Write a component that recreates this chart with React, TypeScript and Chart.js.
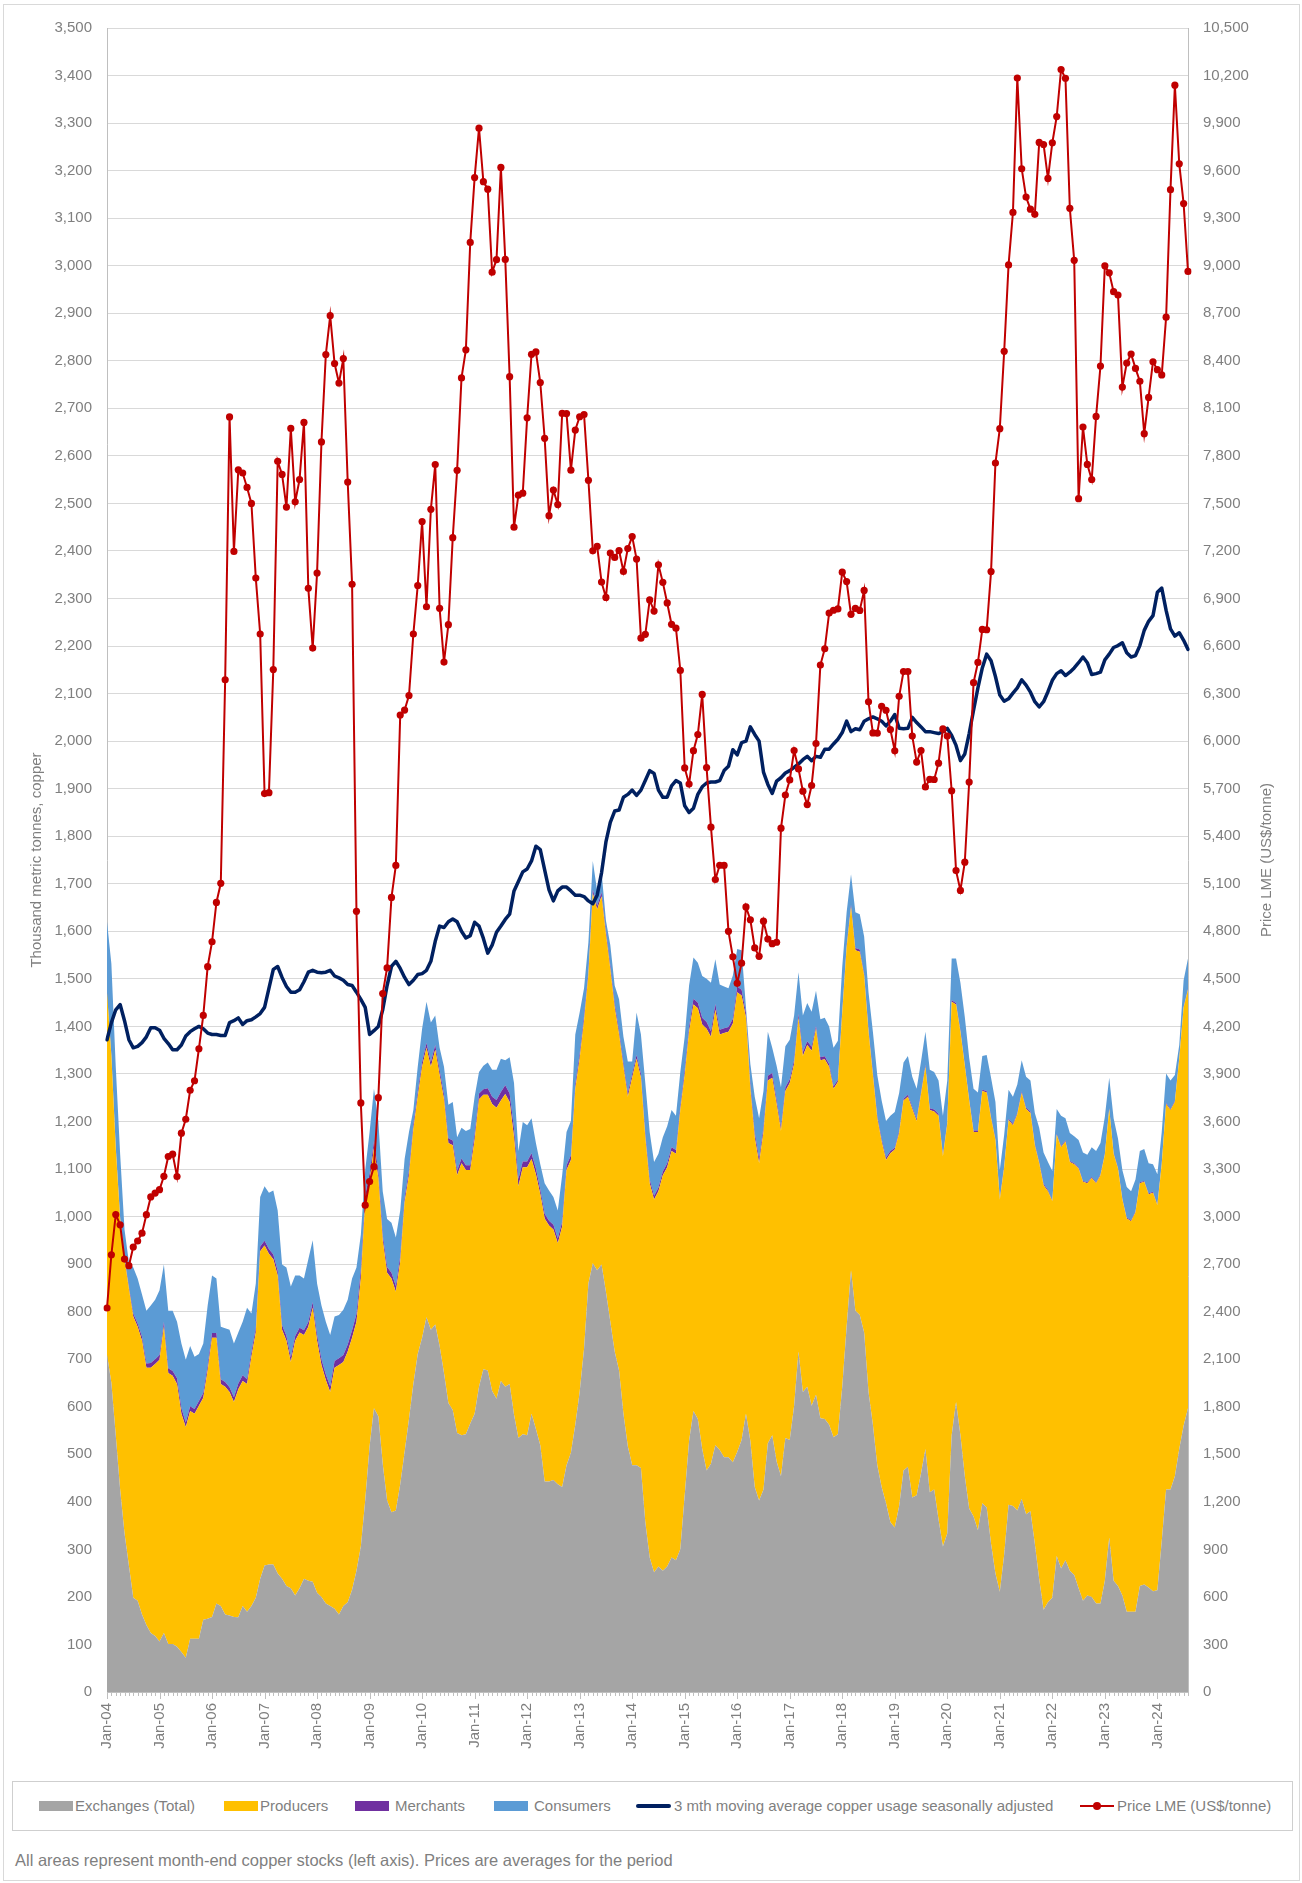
import React, { useEffect, useRef } from 'react';
import { Chart, registerables } from 'chart.js';

Chart.register(...registerables);

// ---------- categories ----------
const monthNames = ['Jan', 'Feb', 'Mar', 'Apr', 'May', 'Jun', 'Jul', 'Aug', 'Sep', 'Oct', 'Nov', 'Dec'];
const yearLabels = ['04', '05', '06', '07', '08', '09', '10', '11', '12', '13', '14', '15', '16', '17', '18', '19', '20', '21', '22', '23', '24'];
const categories: string[] = yearLabels.flatMap((y) => monthNames.map((m) => `${m}-${y}`)).slice(0, 248);

// ---------- series (thousand tonnes, month-end stocks) ----------
// Exchanges (Total) stocks
const exchanges = [
  710, 650, 540, 426, 334, 266, 198, 192, 163, 141, 124, 118,
  106, 124, 101, 101, 95, 84, 72, 112, 112, 112, 152, 154,
  158, 186, 181, 163, 161, 158, 157, 181, 169, 181, 198, 238,
  266, 268, 268, 249, 238, 223, 218, 203, 218, 238, 234, 232,
  209, 200, 186, 181, 175, 163, 181, 189, 215, 255, 306, 403,
  517, 597, 580, 480, 403, 378, 382, 437, 505, 574, 648, 711,
  745, 788, 762, 773, 728, 671, 608, 593, 545, 540, 542, 565,
  585, 642, 679, 676, 633, 617, 654, 642, 648, 583, 534, 542,
  540, 585, 553, 519, 443, 443, 446, 437, 431, 477, 503, 562,
  631, 722, 859, 902, 887, 899, 842, 779, 716, 676, 585, 517,
  477, 477, 471, 357, 283, 252, 264, 255, 264, 283, 277, 300,
  414, 528, 591, 574, 511, 466, 480, 519, 509, 494, 494, 483,
  505, 530, 585, 528, 431, 403, 426, 523, 540, 485, 454, 534,
  530, 602, 716, 631, 642, 602, 625, 576, 574, 562, 536, 542,
  642, 768, 887, 802, 793, 756, 631, 562, 477, 431, 397, 357,
  346, 391, 466, 474, 409, 414, 460, 511, 420, 426, 363, 306,
  334, 540, 610, 540, 454, 386, 369, 340, 397, 388, 312, 249,
  211, 289, 394, 391, 382, 406, 374, 380, 312, 237, 173, 189,
  198, 286, 260, 277, 255, 246, 218, 192, 203, 200, 186, 186,
  234, 325, 234, 223, 203, 169, 169, 169, 223, 226, 220, 212,
  214, 317, 426, 426, 454, 511, 560, 597,
];

// Exchanges + Producers (level of the top of the yellow area)
const exchangesPlusProducers = [
  1470, 1338, 1144, 996, 910, 848, 790, 768, 739, 682, 682, 690,
  699, 768, 671, 665, 648, 585, 557, 591, 585, 602, 619, 676,
  745, 745, 648, 642, 631, 610, 637, 654, 648, 705, 756, 927,
  939, 922, 910, 876, 762, 739, 694, 739, 756, 751, 768, 808,
  739, 688, 656, 631, 682, 688, 694, 716, 745, 779, 870, 1030,
  1076, 1144, 1081, 950, 882, 870, 842, 905, 1030, 1087, 1184, 1252,
  1315, 1355, 1315, 1351, 1298, 1247, 1155, 1150, 1087, 1112, 1098, 1098,
  1161, 1247, 1256, 1256, 1237, 1229, 1244, 1258, 1241, 1167, 1064, 1104,
  1104, 1121, 1089, 1047, 996, 981, 973, 944, 979, 1098, 1119, 1269,
  1332, 1412, 1509, 1680, 1646, 1674, 1594, 1520, 1440, 1383, 1315, 1252,
  1292, 1332, 1292, 1167, 1070, 1036, 1053, 1087, 1104, 1138, 1132, 1224,
  1298, 1389, 1446, 1438, 1404, 1395, 1378, 1435, 1383, 1386, 1389, 1406,
  1472, 1465, 1418, 1269, 1167, 1112, 1178, 1286, 1292, 1237, 1180, 1264,
  1281, 1321, 1418, 1338, 1361, 1349, 1395, 1329, 1331, 1315, 1269, 1283,
  1429, 1566, 1651, 1560, 1557, 1507, 1389, 1298, 1207, 1158, 1119, 1133,
  1141, 1176, 1244, 1252, 1226, 1201, 1258, 1315, 1224, 1221, 1212, 1127,
  1195, 1452, 1446, 1389, 1317, 1244, 1178, 1178, 1264, 1261, 1207, 1161,
  1036, 1104, 1203, 1192, 1215, 1260, 1226, 1218, 1150, 1112, 1066, 1053,
  1032, 1172, 1146, 1158, 1115, 1110, 1101, 1073, 1070, 1081, 1070, 1087,
  1130, 1226, 1132, 1101, 1036, 996, 990, 1009, 1070, 1073, 1047, 1050,
  1024, 1110, 1237, 1224, 1241, 1332, 1440, 1477,
];

// Merchants stocks (thin purple band)
const merchants = [
  2, 2, 3, 3, 4, 5, 6, 7, 8, 9, 10, 10,
  10, 10, 10, 10, 12, 12, 10, 10, 10, 10, 10, 10,
  10, 10, 10, 10, 10, 10, 12, 12, 10, 10, 10, 10,
  10, 10, 10, 10, 10, 10, 10, 10, 10, 10, 10, 12,
  12, 12, 12, 12, 14, 14, 15, 15, 16, 16, 18, 15,
  15, 15, 15, 12, 12, 12, 12, 12, 10, 10, 10, 10,
  10, 10, 10, 10, 10, 10, 10, 10, 10, 10, 10, 10,
  12, 12, 12, 14, 15, 16, 18, 18, 18, 18, 15, 12,
  12, 12, 12, 10, 10, 10, 10, 10, 10, 10, 10, 10,
  10, 10, 8, 8, 8, 8, 8, 8, 8, 8, 8, 8,
  8, 8, 8, 8, 8, 8, 8, 8, 8, 8, 8, 8,
  10, 10, 12, 12, 14, 14, 12, 12, 10, 10, 10, 10,
  12, 12, 10, 10, 10, 10, 10, 10, 10, 8, 8, 8,
  8, 8, 8, 8, 8, 8, 6, 6, 6, 6, 5, 5,
  5, 5, 5, 5, 5, 5, 5, 5, 5, 5, 5, 5,
  4, 4, 4, 4, 4, 4, 4, 4, 4, 4, 4, 4,
  3, 3, 3, 3, 3, 3, 3, 3, 3, 3, 3, 3,
  3, 3, 3, 3, 3, 3, 3, 3, 3, 3, 3, 3,
  2, 2, 2, 2, 2, 2, 2, 2, 2, 2, 2, 2,
  2, 2, 2, 2, 2, 2, 2, 2, 2, 2, 2, 2,
  2, 2, 2, 2, 2, 2, 2, 2,
];

// Total stocks (top of the blue Consumers area)
const totalStocks = [
  1620, 1532, 1315, 1132, 973, 904, 893, 870, 836, 802, 813, 825,
  845, 899, 802, 802, 779, 733, 699, 728, 705, 711, 733, 813,
  876, 870, 768, 765, 762, 733, 756, 779, 808, 796, 859, 1041,
  1064, 1050, 1055, 1013, 899, 893, 853, 876, 876, 870, 910, 950,
  859, 813, 779, 751, 790, 793, 804, 825, 870, 893, 962, 1098,
  1178, 1269, 1201, 1053, 995, 987, 956, 1013, 1121, 1178, 1224, 1315,
  1395, 1452, 1408, 1423, 1355, 1315, 1235, 1241, 1167, 1187, 1180, 1184,
  1252, 1304, 1317, 1324, 1309, 1309, 1332, 1329, 1335, 1281, 1138, 1199,
  1192, 1207, 1155, 1110, 1070, 1055, 1041, 1013, 1087, 1178, 1201, 1383,
  1429, 1480, 1577, 1748, 1685, 1725, 1623, 1571, 1486, 1457, 1378, 1326,
  1326, 1429, 1383, 1281, 1178, 1115, 1132, 1167, 1190, 1224, 1212, 1304,
  1378, 1486, 1545, 1534, 1506, 1500, 1492, 1541, 1488, 1484, 1480, 1507,
  1563, 1560, 1440, 1321, 1252, 1207, 1264, 1389, 1355, 1317, 1272, 1358,
  1372, 1423, 1514, 1423, 1449, 1431, 1475, 1415, 1418, 1400, 1355, 1370,
  1526, 1640, 1720, 1640, 1636, 1589, 1472, 1389, 1298, 1244, 1201, 1212,
  1220, 1260, 1324, 1338, 1294, 1269, 1326, 1389, 1309, 1304, 1286, 1212,
  1286, 1543, 1543, 1492, 1420, 1334, 1269, 1261, 1338, 1340, 1292, 1241,
  1098, 1172, 1267, 1252, 1278, 1329, 1294, 1286, 1218, 1187, 1135, 1115,
  1096, 1226, 1212, 1207, 1176, 1169, 1161, 1135, 1130, 1146, 1138, 1155,
  1210, 1292, 1207, 1164, 1098, 1062, 1053, 1078, 1138, 1142, 1112, 1110,
  1089, 1178, 1301, 1286, 1298, 1361, 1497, 1543,
];

// 3 mth moving average copper usage, seasonally adjusted (left axis)
const usageMA = [
  1372, 1408, 1435, 1446, 1412, 1372, 1355, 1358, 1366, 1378, 1397, 1397,
  1392, 1375, 1364, 1351, 1351, 1361, 1380, 1389, 1395, 1400, 1395, 1386,
  1383, 1383, 1381, 1381, 1408, 1412, 1418, 1404, 1412, 1414, 1420, 1427,
  1440, 1480, 1520, 1526, 1503, 1484, 1472, 1472, 1477, 1494, 1514, 1518,
  1514, 1513, 1514, 1518, 1506, 1502, 1497, 1488, 1486, 1472, 1457, 1440,
  1383, 1391, 1400, 1435, 1486, 1526, 1537, 1522, 1503, 1488, 1497, 1509,
  1511, 1518, 1537, 1579, 1611, 1608, 1620, 1626, 1620, 1600, 1586, 1591,
  1619, 1611, 1585, 1554, 1571, 1598, 1611, 1625, 1636, 1685, 1705, 1725,
  1731, 1748, 1779, 1772, 1729, 1687, 1664, 1685, 1693, 1693, 1685, 1676,
  1676, 1673, 1664, 1658, 1676, 1723, 1788, 1829, 1853, 1855, 1882, 1888,
  1897, 1886, 1897, 1917, 1938, 1932, 1897, 1882, 1882, 1906, 1917, 1912,
  1864, 1850, 1859, 1888, 1904, 1912, 1914, 1914, 1917, 1938, 1947, 1982,
  1971, 1997, 2000, 2030, 2014, 2000, 1935, 1909, 1890, 1916, 1923, 1933,
  1938, 1945, 1952, 1961, 1968, 1959, 1968, 1966, 1983, 1983, 1994, 2004,
  2018, 2042, 2020, 2026, 2024, 2042, 2047, 2051, 2047, 2042, 2032, 2042,
  2056, 2027, 2026, 2027, 2050, 2039, 2030, 2020, 2020, 2018, 2016, 2020,
  2027, 2012, 1991, 1959, 1973, 2016, 2065, 2112, 2154, 2183, 2169, 2136,
  2097, 2084, 2089, 2101, 2112, 2129, 2118, 2103, 2083, 2072, 2083, 2104,
  2128, 2142, 2148, 2138, 2145, 2154, 2165, 2177, 2165, 2140, 2142, 2145,
  2171, 2183, 2197, 2201, 2207, 2186, 2177, 2180, 2201, 2233, 2252, 2264,
  2313, 2322, 2275, 2236, 2221, 2228, 2212, 2193,
];

// Price LME (US$/tonne), right axis
const priceLME = [
  2423, 2759, 3013, 2948, 2732, 2690, 2808, 2846, 2895, 3012, 3124, 3148,
  3170, 3254, 3379, 3394, 3253, 3526, 3614, 3797, 3857, 4059, 4269, 4577,
  4734, 4982, 5103, 6387, 8046, 7197, 7712, 7692, 7601, 7500, 7029, 6676,
  5669, 5675, 6452, 7766, 7683, 7477, 7973, 7510, 7651, 8011, 6964, 6587,
  7061, 7888, 8439, 8685, 8383, 8260, 8414, 7635, 6990, 4926, 3717, 3072,
  3221, 3315, 3750, 4407, 4569, 5014, 5216, 6165, 6196, 6288, 6676, 6982,
  7386, 6848, 7463, 7745, 6838, 6499, 6735, 7284, 7709, 8292, 8469, 9147,
  9556, 9868, 9530, 9483, 8959, 9038, 9620, 9040, 8300, 7350, 7552, 7565,
  8040, 8441, 8456, 8263, 7911, 7423, 7584, 7493, 8068, 8067, 7710, 7963,
  8047, 8061, 7646, 7201, 7229, 7004, 6907, 7187, 7159, 7203, 7071, 7215,
  7291, 7149, 6650, 6674, 6891, 6821, 7113, 7002, 6872, 6737, 6713, 6446,
  5831, 5729, 5940, 6042, 6295, 5833, 5457, 5127, 5217, 5216, 4800, 4639,
  4472, 4599, 4954, 4873, 4695, 4642, 4864, 4751, 4722, 4731, 5451, 5660,
  5755, 5941, 5825, 5684, 5600, 5720, 5985, 6480, 6583, 6808, 6826, 6834,
  7066, 7007, 6800, 6838, 6825, 6951, 6248, 6052, 6050, 6220, 6195, 6073,
  5939, 6283, 6439, 6439, 6032, 5868, 5941, 5711, 5759, 5758, 5861, 6077,
  6032, 5687, 5183, 5058, 5236, 5742, 6369, 6497, 6705, 6703, 7070, 7755,
  7972, 8460, 9005, 9336, 10184, 9612, 9433, 9357, 9324, 9778, 9765, 9551,
  9776, 9941, 10238, 10183, 9362, 9034, 7530, 7982, 7746, 7651, 8049, 8367,
  8999, 8955, 8836, 8815, 8234, 8386, 8443, 8352, 8271, 7940, 8169, 8394,
  8344, 8311, 8675, 9480, 10139, 9643, 9392, 8964,
];

const seriesNames = [
  'Exchanges (Total)',
  'Producers',
  'Merchants',
  'Consumers',
  '3 mth moving average copper usage seasonally adjusted',
  'Price LME (US$/tonne)',
];
const leftTitle = 'Thousand metric tonnes, copper';
const rightTitle = 'Price LME (US$/tonne)';
const footnote = 'All areas represent month-end copper stocks (left axis). Prices are averages for the period';

// ---------- styling ----------
const FONT = '"Liberation Sans", Arial, Helvetica, sans-serif';
const TEXT = '#7F7F7F';
const COLORS = ['#A5A5A5', '#FFC000', '#7030A0', '#5B9BD5', '#002060', '#C00000'];

const axisDecor = {
  id: 'axisDecor',
  afterDraw(chart: any) {
    const { ctx, chartArea } = chart;
    const x = chart.scales.x;
    const y1 = chart.scales.y1;
    ctx.save();
    ctx.strokeStyle = '#BFBFBF';
    ctx.lineWidth = 1;
    for (let i = 0; i < categories.length; i++) {
      const px = Math.round(x.getPixelForValue(i)) + 0.5;
      const len = i % 12 === 0 ? 7 : 4;
      ctx.beginPath();
      ctx.moveTo(px, chartArea.bottom);
      ctx.lineTo(px, chartArea.bottom + len);
      ctx.stroke();
    }
    ctx.fillStyle = TEXT;
    ctx.font = `15px ${FONT}`;
    ctx.translate(y1.right - 9, (chartArea.top + chartArea.bottom) / 2);
    ctx.rotate(-Math.PI / 2);
    ctx.textAlign = 'center';
    ctx.textBaseline = 'middle';
    ctx.fillText(rightTitle, 0, 0);
    ctx.restore();
  },
};

const legendLayout = [
  { kind: 'box', swatchX: 39, textX: 75 },
  { kind: 'box', swatchX: 224, textX: 260 },
  { kind: 'box', swatchX: 355, textX: 395 },
  { kind: 'box', swatchX: 494, textX: 534 },
  { kind: 'line', swatchX: 636, textX: 674 },
  { kind: 'marker', swatchX: 1080, textX: 1117 },
];

export default function App() {
  const ref = useRef<HTMLCanvasElement>(null);

  useEffect(() => {
    const canvas = ref.current;
    if (!canvas) return;
    const producers = exchangesPlusProducers.map((v, i) => v - exchanges[i]);
    const consumers = totalStocks.map((v, i) => Math.max(0, v - exchangesPlusProducers[i] - merchants[i]));
    const font = { family: FONT, size: 15 };
    const areaBase = {
      yAxisID: 'y',
      stack: 'stocks',
      borderWidth: 0,
      pointRadius: 0,
      pointHoverRadius: 0,
      order: 0,
      tension: 0,
    };
    const chart = new Chart(canvas, {
      type: 'line',
      data: {
        labels: categories,
        datasets: [
          { ...areaBase, label: seriesNames[0], data: exchanges, backgroundColor: COLORS[0], borderColor: COLORS[0], fill: 'origin' },
          { ...areaBase, label: seriesNames[1], data: producers, backgroundColor: COLORS[1], borderColor: COLORS[1], fill: '-1' },
          { ...areaBase, label: seriesNames[2], data: merchants, backgroundColor: COLORS[2], borderColor: COLORS[2], fill: '-1' },
          { ...areaBase, label: seriesNames[3], data: consumers, backgroundColor: COLORS[3], borderColor: COLORS[3], fill: '-1' },
          {
            label: seriesNames[4],
            data: usageMA,
            yAxisID: 'y',
            stack: 'usage',
            borderColor: COLORS[4],
            backgroundColor: COLORS[4],
            borderWidth: 3.5,
            pointRadius: 0,
            pointHoverRadius: 0,
            fill: false,
            tension: 0,
            borderJoinStyle: 'round',
            borderCapStyle: 'round',
            order: -1,
          },
          {
            label: seriesNames[5],
            data: priceLME,
            yAxisID: 'y1',
            borderColor: COLORS[5],
            backgroundColor: COLORS[5],
            borderWidth: 2,
            pointRadius: 3.6,
            pointHoverRadius: 3.6,
            pointBorderWidth: 0,
            pointBackgroundColor: COLORS[5],
            fill: false,
            tension: 0,
            order: -2,
          },
        ],
      } as any,
      options: {
        responsive: false,
        animation: false,
        events: [],
        layout: { padding: { left: 20, right: 26, top: 28, bottom: 0 } },
        plugins: { legend: { display: false }, tooltip: { enabled: false } },
        scales: {
          x: {
            type: 'category',
            offset: false,
            grid: { display: false, drawTicks: false },
            border: { display: true, color: '#BFBFBF', width: 1 },
            ticks: {
              autoSkip: false,
              minRotation: 90,
              maxRotation: 90,
              padding: 11,
              color: TEXT,
              font,
              callback: (_v: any, i: number) => (i % 12 === 0 ? categories[i] : ''),
            },
            afterFit: (s: any) => {
              s.height = 78;
            },
          },
          y: {
            type: 'linear',
            position: 'left',
            stacked: true,
            min: 0,
            max: 3500,
            grid: { color: '#D9D9D9', drawTicks: false, lineWidth: 1 },
            border: { display: true, color: '#BFBFBF', width: 1 },
            ticks: {
              stepSize: 100,
              autoSkip: false,
              padding: 15,
              color: TEXT,
              font,
              callback: (v: any) => Number(v).toLocaleString('en-US'),
            },
            title: {
              display: true,
              text: leftTitle,
              color: TEXT,
              font,
              padding: { top: 8, bottom: 0 },
            },
            afterFit: (s: any) => {
              s.width = 87;
            },
          },
          y1: {
            type: 'linear',
            position: 'right',
            min: 0,
            max: 10500,
            grid: { display: false, drawTicks: false },
            border: { display: true, color: '#BFBFBF', width: 1 },
            ticks: {
              stepSize: 300,
              autoSkip: false,
              padding: 15,
              color: TEXT,
              font,
              callback: (v: any) => Number(v).toLocaleString('en-US'),
            },
            afterFit: (s: any) => {
              s.width = 88;
            },
          },
        },
      } as any,
      plugins: [axisDecor],
    });
    return () => chart.destroy();
  }, []);

  return (
    <div style={{ position: 'absolute', left: 0, top: 0, width: 1302, height: 1883, background: '#FFFFFF', fontFamily: FONT }}>
      <div
        style={{
          position: 'absolute',
          left: 3,
          top: 4,
          width: 1297,
          height: 1877,
          border: '1px solid #D9D9D9',
          boxSizing: 'border-box',
        }}
      />
      <canvas
        ref={ref}
        width={1302}
        height={1770}
        style={{ position: 'absolute', left: 0, top: 0, width: 1302, height: 1770 }}
      />
      <div
        style={{
          position: 'absolute',
          left: 12,
          top: 1781,
          width: 1281,
          height: 50,
          border: '1px solid #CFCFCF',
          boxSizing: 'border-box',
        }}
      />
      {legendLayout.map((item, i) => (
        <React.Fragment key={i}>
          {item.kind === 'box' && (
            <div
              style={{
                position: 'absolute',
                left: item.swatchX,
                top: 1801,
                width: 34,
                height: 10,
                background: COLORS[i],
              }}
            />
          )}
          {item.kind === 'line' && (
            <div
              style={{
                position: 'absolute',
                left: item.swatchX,
                top: 1804,
                width: 35,
                height: 4,
                borderRadius: 2,
                background: COLORS[i],
              }}
            />
          )}
          {item.kind === 'marker' && (
            <>
              <div
                style={{
                  position: 'absolute',
                  left: item.swatchX,
                  top: 1805,
                  width: 34,
                  height: 2,
                  background: COLORS[i],
                }}
              />
              <div
                style={{
                  position: 'absolute',
                  left: item.swatchX + 13,
                  top: 1802,
                  width: 8,
                  height: 8,
                  borderRadius: 4,
                  background: COLORS[i],
                }}
              />
            </>
          )}
          <div
            style={{
              position: 'absolute',
              left: item.textX,
              top: 1797,
              fontSize: 15,
              lineHeight: '18px',
              color: TEXT,
              whiteSpace: 'nowrap',
            }}
          >
            {seriesNames[i]}
          </div>
        </React.Fragment>
      ))}
      <div
        style={{
          position: 'absolute',
          left: 15,
          top: 1850,
          fontSize: 16.5,
          lineHeight: '20px',
          color: TEXT,
          whiteSpace: 'nowrap',
        }}
      >
        {footnote}
      </div>
    </div>
  );
}
